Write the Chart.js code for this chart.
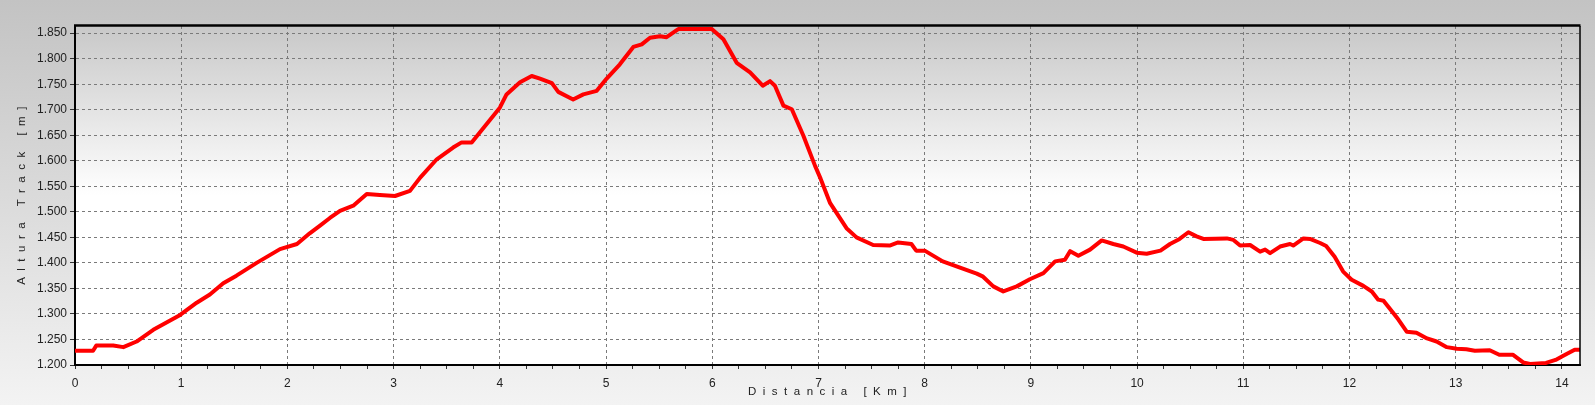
<!DOCTYPE html>
<html lang="es">
<head>
    <meta charset="UTF-8">
    <title>Perfil Altura Track</title>
    <style>
        body { margin: 0; background: #fff; }
        #wrap { width: 1595px; height: 405px; }
    </style>
</head>
<body>
    <div id="wrap">
        <canvas id="profileChart" width="1595" height="405"></canvas>
    </div>
    <script src="https://cdn.jsdelivr.net/npm/chart.js"></script>
    <script>
        const distKm = [
            0.00, 0.17, 0.20, 0.36, 0.455, 0.58, 0.737, 0.99, 1.146, 1.27,
            1.396, 1.52, 1.71, 1.93, 2.09, 2.21, 2.307, 2.40, 2.495, 2.62,
            2.747, 2.87, 3.013, 3.154, 3.25, 3.406, 3.56, 3.64, 3.735, 3.876,
            4.00, 4.063, 4.19, 4.30, 4.378, 4.49, 4.55, 4.69, 4.786, 4.912,
            5.006, 5.13, 5.257, 5.336, 5.414, 5.508, 5.57, 5.68, 5.995, 6.105,
            6.23, 6.356, 6.475, 6.544, 6.59, 6.67, 6.749, 6.858, 6.968, 7.02,
            7.11, 7.264, 7.358, 7.515, 7.67, 7.75, 7.875, 7.92, 8.00, 8.17,
            8.30, 8.49, 8.55, 8.646, 8.74, 8.867, 8.99, 9.118, 9.228, 9.32,
            9.37, 9.447, 9.557, 9.667, 9.776, 9.87, 9.996, 10.09, 10.22, 10.31,
            10.40, 10.483, 10.56, 10.624, 10.845, 10.907, 10.97, 11.064, 11.158, 11.205,
            11.252, 11.346, 11.44, 11.47, 11.566, 11.628, 11.723, 11.78, 11.86, 11.94,
            12.02, 12.13, 12.21, 12.27, 12.32, 12.38, 12.46, 12.54, 12.63, 12.73,
            12.82, 12.916, 13.01, 13.10, 13.18, 13.32, 13.41, 13.54, 13.635, 13.70,
            13.85, 13.94, 14.03, 14.12, 14.17
        ];
        const alturaM = [
            1228, 1228, 1238, 1238, 1235, 1246, 1269, 1298, 1322, 1338,
            1360, 1375, 1400, 1427, 1437, 1458, 1473, 1488, 1502, 1512,
            1535, 1533, 1531, 1541, 1567, 1603, 1626, 1636, 1636, 1672,
            1704, 1730, 1754, 1766, 1761, 1752, 1735, 1720, 1730, 1737,
            1761, 1789, 1823, 1828, 1841, 1844, 1842, 1858, 1858, 1838,
            1792, 1773, 1747, 1756, 1747, 1708, 1701, 1649, 1590, 1565,
            1517, 1468, 1450, 1435, 1434, 1440, 1437, 1424, 1424, 1403,
            1393, 1379, 1373, 1354, 1344, 1354, 1368, 1380, 1403, 1406,
            1423, 1414, 1426, 1444, 1437, 1432, 1420, 1418, 1424, 1437,
            1447, 1460, 1452, 1447, 1448, 1445, 1434, 1435, 1422, 1426,
            1419, 1432, 1437, 1434, 1448, 1447, 1439, 1433, 1412, 1383,
            1367, 1355, 1344, 1328, 1326, 1310, 1289, 1265, 1263, 1252,
            1246, 1235, 1232, 1231, 1228, 1229, 1220, 1220, 1205, 1202,
            1204, 1210, 1220, 1230, 1230
        ];
        const xRange = [0, 14.17];
        const yRange = [1200, 1864];
        const xTitle = 'Distancia [Km]';
        const yTitle = 'Altura Track [m]';

        const points = distKm.map((d, i) => ({ x: d, y: alturaM[i] }));

        // 1.850 style labels
        function fmtMiles(v) {
            const n = Math.round(v);
            return Math.floor(n / 1000) + '.' + String(n % 1000).padStart(3, '0');
        }
        function isWhole(v) {
            return Math.abs(v - Math.round(v)) < 1e-6;
        }

        const backgroundPlugin = {
            id: 'fondo',
            beforeDraw(chart) {
                const ctx = chart.ctx;
                const a = chart.chartArea;
                ctx.save();
                let g = ctx.createLinearGradient(0, 0, 0, chart.height);
                g.addColorStop(0, '#c3c3c3');
                g.addColorStop(1, '#f3f3f3');
                ctx.fillStyle = g;
                ctx.fillRect(0, 0, chart.width, chart.height);
                // plot area: gris arriba, blanco desde la mitad
                g = ctx.createLinearGradient(0, a.top, 0, a.bottom);
                g.addColorStop(0, '#c8c8c8');
                g.addColorStop(0.5, '#ffffff');
                g.addColorStop(1, '#ffffff');
                ctx.fillStyle = g;
                ctx.fillRect(a.left, a.top, a.right - a.left, a.bottom - a.top);
                ctx.restore();
            },
            afterDraw(chart) {
                const ctx = chart.ctx;
                const a = chart.chartArea;
                ctx.save();
                ctx.strokeStyle = '#000';
                ctx.lineWidth = 2.5;
                ctx.beginPath();
                ctx.moveTo(a.left - 1, a.top - 0.5);
                ctx.lineTo(a.right + 0.5, a.top - 0.5);
                ctx.stroke();
                ctx.lineWidth = 1.5;
                ctx.beginPath();
                ctx.moveTo(a.right, a.top);
                ctx.lineTo(a.right, a.bottom);
                ctx.stroke();

                // axis titles with spaced letters
                ctx.fillStyle = '#222';
                ctx.font = '11.5px "Liberation Sans", Arial, sans-serif';
                ctx.textAlign = 'center';
                ctx.textBaseline = 'middle';
                if ('letterSpacing' in ctx) ctx.letterSpacing = '6.5px';
                ctx.fillText(xTitle, (a.left + a.right) / 2 + 3, 392);
                ctx.translate(22, (a.top + a.bottom) / 2);
                ctx.rotate(-Math.PI / 2);
                ctx.fillText(yTitle, 3, 0);
                ctx.restore();
            }
        };

        const ctx = document.getElementById('profileChart').getContext('2d');
        new Chart(ctx, {
            type: 'line',
            data: {
                datasets: [{
                    label: 'Altura',
                    data: points,
                    borderColor: '#ff0000',
                    borderWidth: 4,
                    pointRadius: 0,
                    tension: 0,
                    borderJoinStyle: 'round',
                    borderCapStyle: 'round',
                    fill: false
                }]
            },
            options: {
                responsive: false,
                animation: false,
                events: [],
                layout: { padding: { top: 26, right: 15, left: 0, bottom: 0 } },
                plugins: {
                    legend: { display: false },
                    tooltip: { enabled: false }
                },
                scales: {
                    x: {
                        type: 'linear',
                        min: xRange[0],
                        max: xRange[1],
                        afterFit: s => { s.height = 40; },
                        ticks: {
                            stepSize: 0.25,
                            autoSkip: false,
                            maxRotation: 0,
                            includeBounds: false,
                            padding: 7,
                            color: '#222',
                            font: { family: '"Liberation Sans", Arial, sans-serif', size: 12 },
                            callback: v => isWhole(v) ? String(Math.round(v)) : ''
                        },
                        grid: {
                            color: c => (c.tick && isWhole(c.tick.value)) ? '#7a7a7a' : 'rgba(0,0,0,0)',
                            lineWidth: 1,
                            tickColor: '#333',
                            tickLength: 4
                        },
                        border: { color: '#000', width: 2, dash: [3, 3] }
                    },
                    y: {
                        min: yRange[0],
                        max: yRange[1],
                        afterFit: s => { s.width = 75; },
                        ticks: {
                            stepSize: 50,
                            includeBounds: false,
                            padding: 3,
                            color: '#222',
                            font: { family: '"Liberation Sans", Arial, sans-serif', size: 12 },
                            callback: v => fmtMiles(v)
                        },
                        grid: {
                            color: '#7a7a7a',
                            lineWidth: 1,
                            tickColor: '#333',
                            tickLength: 5
                        },
                        border: { color: '#000', width: 2, dash: [3, 3] }
                    }
                }
            },
            plugins: [backgroundPlugin]
        });
    </script>
</body>
</html>
